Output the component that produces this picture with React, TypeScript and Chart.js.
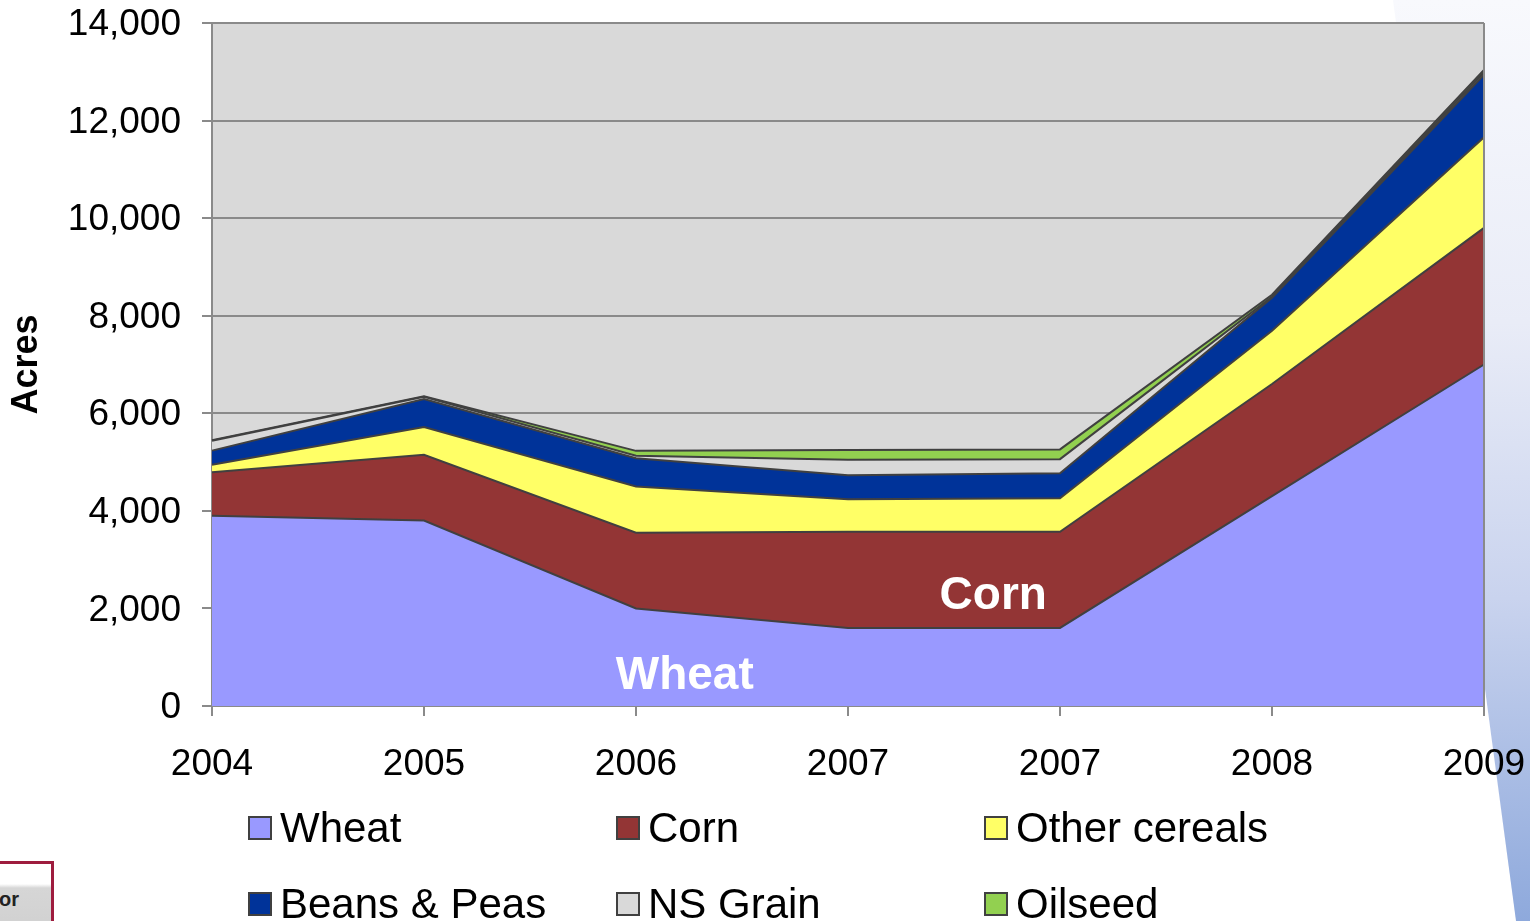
import React, { useEffect, useRef } from "react";
import { Chart, registerables } from "chart.js";

Chart.register(...registerables);

const CATEGORIES = ["2004", "2005", "2006", "2007", "2007", "2008", "2009"];

const WHEAT = [3900, 3800, 2000, 1600, 1600, 4300, 7000];
const CORN = [890, 1350, 1550, 1970, 1970, 2300, 2800];
const OTHER_CEREALS = [155, 570, 950, 670, 690, 1090, 1860];
const BEANS_PEAS = [290, 570, 580, 490, 510, 680, 1280];
const NS_GRAIN = [200, 50, 50, 320, 290, 20, 50];
const OILSEED = [15, 10, 100, 200, 200, 40, 50];

const SERIES_NAMES = ["Wheat", "Corn", "Other cereals", "Beans & Peas", "NS Grain", "Oilseed"];
const SERIES_COLORS = ["#9999FF", "#933535", "#FFFF66", "#003399", "#D9D9D9", "#92D050"];
const SERIES_VALUES = [WHEAT, CORN, OTHER_CEREALS, BEANS_PEAS, NS_GRAIN, OILSEED];

const Y_MIN = 0;
const Y_MAX = 14000;
const Y_STEP = 2000;

// in-chart labels anchored in data space: [category index, value]
const AREA_LABELS = [
  { text: "Corn", x: 3.685, y: 2255 },
  { text: "Wheat", x: 2.23, y: 615 },
];

const FONT = "'Liberation Sans', Arial, Helvetica, sans-serif";
const GRID = "#8a8a8a";

const plotPlugin = {
  id: "plotDecor",
  beforeDraw(chart: any) {
    const { ctx, chartArea } = chart;
    ctx.save();
    ctx.fillStyle = "#D9D9D9";
    ctx.fillRect(chartArea.left, chartArea.top, chartArea.right - chartArea.left, chartArea.bottom - chartArea.top);
    ctx.restore();
  },
  afterDatasetsDraw(chart: any) {
    const { ctx, chartArea, scales } = chart;
    ctx.save();
    ctx.strokeStyle = GRID;
    ctx.lineWidth = 2;
    ctx.beginPath();
    ctx.moveTo(chartArea.right, chartArea.top);
    ctx.lineTo(chartArea.right, chartArea.bottom);
    ctx.stroke();
    ctx.fillStyle = "#ffffff";
    ctx.font = `bold 46px ${FONT}`;
    ctx.textAlign = "center";
    ctx.textBaseline = "middle";
    for (const l of AREA_LABELS) {
      ctx.fillText(l.text, scales.x.getPixelForValue(l.x), scales.y.getPixelForValue(l.y));
    }
    ctx.restore();
  },
};

const LEGEND_COLS = [248, 616, 984];
const LEGEND_ROWS = [828, 904];

export default function App() {
  const ref = useRef<HTMLCanvasElement>(null);

  useEffect(() => {
    const canvas = ref.current;
    if (!canvas) return;
    const chart = new Chart(canvas, {
      type: "line",
      data: {
        labels: CATEGORIES,
        datasets: SERIES_NAMES.map((name, i) => ({
          label: name,
          data: SERIES_VALUES[i],
          backgroundColor: SERIES_COLORS[i],
          borderColor: "#404040",
          borderWidth: 2,
          pointRadius: 0,
          tension: 0,
          fill: i === 0 ? "origin" : "-1",
        })),
      },
      options: {
        animation: false,
        responsive: false,
        devicePixelRatio: 1,
        layout: { padding: { top: 23, right: 46, left: 0, bottom: 0 } },
        plugins: { legend: { display: false }, tooltip: { enabled: false } },
        scales: {
          x: {
            type: "category",
            offset: false,
            grid: { drawOnChartArea: false, drawTicks: true, tickLength: 10, color: GRID, lineWidth: 2 },
            border: { display: true, color: GRID, width: 2 },
            ticks: {
              autoSkip: false,
              maxRotation: 0,
              padding: 27,
              color: "#000",
              font: { family: FONT, size: 37 },
            },
            afterFit: (s: any) => {
              s.height = 921 - 706;
              s.paddingLeft = 0;
              s.paddingRight = 0;
            },
          },
          y: {
            stacked: true,
            min: Y_MIN,
            max: Y_MAX,
            grid: { color: GRID, lineWidth: 2, tickLength: 10, drawTicks: true },
            border: { display: true, color: GRID, width: 2 },
            ticks: {
              stepSize: Y_STEP,
              padding: 21,
              labelOffset: 2,
              color: "#000",
              font: { family: FONT, size: 37 },
              callback: (v: any) => Number(v).toLocaleString("en-US"),
            },
            title: {
              display: true,
              text: "Acres",
              color: "#000",
              padding: { top: 5, bottom: 0 },
              font: { family: FONT, size: 36, weight: "bold" },
            },
            afterFit: (s: any) => {
              s.width = 212;
              s.paddingTop = 0;
              s.paddingBottom = 0;
            },
          },
        },
      },
      plugins: [plotPlugin],
    } as any);
    return () => chart.destroy();
  }, []);

  return (
    <div
      style={{
        position: "fixed",
        left: 0,
        top: 0,
        width: 1530,
        height: 921,
        overflow: "hidden",
        background: "#ffffff",
        fontFamily: FONT,
      }}
    >
      <div
        style={{
          position: "absolute",
          left: 1380,
          top: 0,
          width: 150,
          height: 921,
          background: "linear-gradient(to bottom, #f8f9fd 0%, #e9ecf7 35%, #c9d3ee 65%, #8ea9dc 100%)",
          clipPath: "polygon(13px 0px, 150px 0px, 150px 921px, 136px 921px)",
        }}
      />
      <div
        style={{
          position: "absolute",
          left: -20,
          top: 861,
          width: 68,
          height: 80,
          border: "3px solid #9e1c3e",
          background: "linear-gradient(to bottom, #ffffff 0%, #ffffff 25%, #d6d6d6 30%, #cfcfcf 100%)",
        }}
      >
        <span
          style={{
            position: "absolute",
            left: 16,
            top: 24,
            fontSize: 20,
            fontWeight: "bold",
            color: "#222",
          }}
        >
          or
        </span>
      </div>
      <canvas ref={ref} width={1530} height={921} style={{ position: "absolute", left: 0, top: 0, width: 1530, height: 921 }} />
      {SERIES_NAMES.map((name, i) => {
        const col = i % 3;
        const row = Math.floor(i / 3);
        return (
          <div
            key={name}
            style={{
              position: "absolute",
              left: LEGEND_COLS[col],
              top: LEGEND_ROWS[row] - 25,
              height: 50,
              display: "flex",
              alignItems: "center",
              whiteSpace: "nowrap",
            }}
          >
            <div
              style={{
                width: 20,
                height: 20,
                border: "2px solid #404040",
                background: SERIES_COLORS[i],
                marginRight: 8,
                flex: "none",
              }}
            />
            <span style={{ fontSize: 42, color: "#000", lineHeight: "50px" }}>{name}</span>
          </div>
        );
      })}
    </div>
  );
}
